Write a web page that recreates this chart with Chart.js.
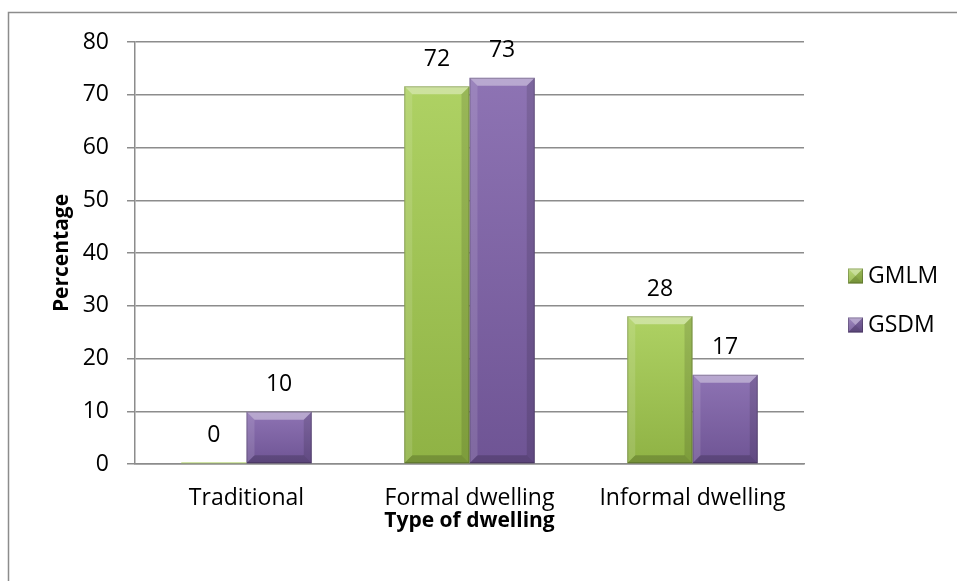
<!DOCTYPE html>
<html>
<head>
<meta charset="utf-8">
<title>Type of dwelling</title>
<script src="https://cdn.jsdelivr.net/npm/chart.js@4.4.0/dist/chart.umd.min.js"></script>
<style>
  html, body { margin: 0; padding: 0; background: #fff; }
</style>
</head>
<body>
<canvas id="myChart" width="957" height="581"></canvas>
<script>
// data
var categories = ["Traditional", "Formal dwelling", "Informal dwelling"];
var seriesNames = ["GMLM", "GSDM"];
var gmlmValues = [0.3, 71.6, 28.0];
var gsdmValues = [9.9, 73.2, 16.9];
var gmlmLabels = ["0", "72", "28"];
var gsdmLabels = ["10", "73", "17"];
var yMin = 0, yMax = 80, yStep = 10;

var seriesColors = ["#a3cb4e", "#7e60a9"];
var fontName = "'Open Sans', Lato, sans-serif";
var textSize = 23;

Chart.defaults.font.family = fontName;
Chart.defaults.color = "#000";

function poly(ctx, pts, fill) {
  ctx.beginPath();
  ctx.moveTo(pts[0][0], pts[0][1]);
  for (var i = 1; i < pts.length; i++) ctx.lineTo(pts[i][0], pts[i][1]);
  ctx.closePath();
  ctx.fillStyle = fill;
  ctx.fill();
}

// bevel look on every bar, using the bar positions from the library
function bevel(ctx, l, t, r, b) {
  var w = r - l, h = b - t;
  if (h < 2) return;
  var e = Math.min(8, h / 2);
  var g = ctx.createLinearGradient(0, t, 0, b);
  g.addColorStop(0, "rgba(255,255,255,0.12)");
  g.addColorStop(1, "rgba(0,0,0,0.12)");
  ctx.fillStyle = g;
  ctx.fillRect(l, t, w, h);
  poly(ctx, [[l, t], [r, t], [r - e, t + e], [l + e, t + e]], "rgba(255,255,255,0.38)");
  poly(ctx, [[l, t], [l + e, t + e], [l + e, b - e], [l, b]], "rgba(255,255,255,0.12)");
  poly(ctx, [[r, t], [r, b], [r - e, b - e], [r - e, t + e]], "rgba(0,0,0,0.12)");
  poly(ctx, [[l, b], [l + e, b - e], [r - e, b - e], [r, b]], "rgba(0,0,0,0.18)");
  ctx.strokeStyle = "rgba(0,0,0,0.22)";
  ctx.lineWidth = 1;
  ctx.strokeRect(l + 0.5, t + 0.5, w - 1, h - 1);
}

var barLabels = [gmlmLabels, gsdmLabels];

var extrasPlugin = {
  id: "extras",
  beforeDraw: function (chart) {
    var ctx = chart.ctx;
    ctx.save();
    ctx.strokeStyle = "#8c8c8c";
    ctx.lineWidth = 1.5;
    ctx.beginPath();
    ctx.moveTo(8.5, 600);
    ctx.lineTo(8.5, 12.5);
    ctx.lineTo(1000, 12.5);
    ctx.stroke();
    ctx.restore();
  },
  afterDatasetsDraw: function (chart) {
    var ctx = chart.ctx;
    ctx.save();
    chart.data.datasets.forEach(function (ds, di) {
      chart.getDatasetMeta(di).data.forEach(function (bar, i) {
        var p = bar.getProps(["x", "y", "width", "base"], true);
        var l = p.x - p.width / 2, r = p.x + p.width / 2;
        bevel(ctx, l, Math.min(p.y, p.base), r, Math.max(p.y, p.base));
        ctx.fillStyle = "#000";
        ctx.font = textSize + "px " + fontName;
        ctx.textAlign = "center";
        ctx.textBaseline = "middle";
        ctx.fillText(barLabels[di][i], p.x, p.y - 27);
      });
    });
    // legend on the right
    var legY = [276, 325];
    seriesNames.forEach(function (name, i) {
      ctx.fillStyle = seriesColors[i];
      ctx.fillRect(848, legY[i] - 7.5, 15, 15);
      bevel(ctx, 848, legY[i] - 7.5, 863, legY[i] + 7.5);
      ctx.fillStyle = "#000";
      ctx.font = textSize + "px " + fontName;
      ctx.textAlign = "left";
      ctx.textBaseline = "middle";
      ctx.fillText(name, 868, legY[i]);
    });
    ctx.restore();
  }
};

var ctx = document.getElementById("myChart").getContext("2d");
var myChart = new Chart(ctx, {
  type: "bar",
  data: {
    labels: categories,
    datasets: [
      { label: seriesNames[0], data: gmlmValues, backgroundColor: seriesColors[0], borderWidth: 0 },
      { label: seriesNames[1], data: gsdmValues, backgroundColor: seriesColors[1], borderWidth: 0 }
    ]
  },
  options: {
    responsive: false,
    animation: false,
    layout: { padding: { top: 42, right: 153, bottom: 0, left: 0 } },
    datasets: { bar: { categoryPercentage: 0.585, barPercentage: 1 } },
    plugins: { legend: { display: false }, tooltip: { enabled: false } },
    scales: {
      x: {
        grid: { display: false, drawTicks: false },
        border: { display: true, color: "#8c8c8c", width: 1.5 },
        ticks: { font: { size: textSize }, padding: 21, color: "#000" },
        title: { display: true, text: "Type of dwelling", font: { size: 21, weight: "bold" }, padding: { top: 0, bottom: 47 }, color: "#000" },
        afterFit: function (scale) { scale.height = 117; }
      },
      y: {
        min: yMin,
        max: yMax,
        ticks: { stepSize: yStep, font: { size: textSize }, padding: 18, color: "#000" },
        grid: { color: "#8c8c8c", lineWidth: 1.5, tickLength: 8, drawTicks: true },
        border: { display: true, color: "#8c8c8c", width: 1.5 },
        title: { display: true, text: "Percentage", font: { size: 21, weight: "bold" }, padding: { top: 49, bottom: 0 }, color: "#000" },
        afterFit: function (scale) { scale.width = 135; }
      }
    }
  },
  plugins: [extrasPlugin]
});
</script>
</body>
</html>
